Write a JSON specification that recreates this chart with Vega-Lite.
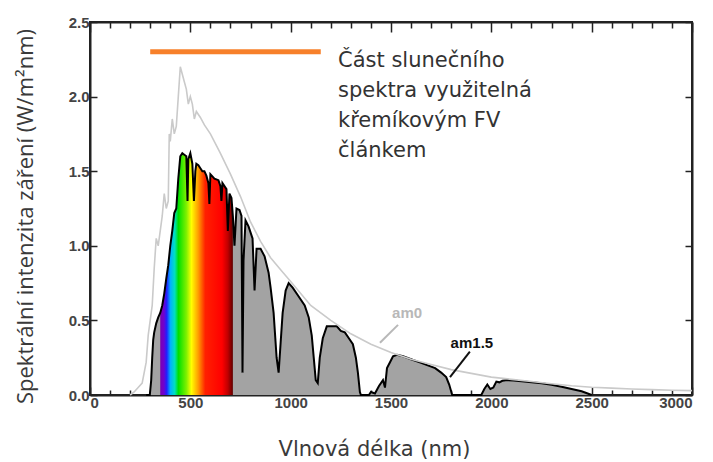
{
  "$schema": "https://vega.github.io/schema/vega-lite/v6.json",
  "width": 602,
  "height": 373,
  "autosize": {"type": "none"},
  "padding": {"left": 90, "top": 22, "right": 21, "bottom": 67},
  "background": "white",
  "config": {
    "view": {"stroke": "#222", "strokeWidth": 2},
    "axis": {"grid": false, "domainColor": "#222", "domainWidth": 2, "tickColor": "#222", "tickWidth": 1.5,
      "labelFont": "Liberation Sans", "labelFontWeight": "bold", "labelFontSize": 15, "labelColor": "#444",
      "titleFont": "DejaVu Sans", "titleFontWeight": "normal", "titleFontSize": 21, "titleColor": "#3a3a3a"}
  },
  "datasets": {
    "am15": [
      {"nm": 280, "v": 0}, {"nm": 298, "v": 0}, {"nm": 305, "v": 0.1}, {"nm": 310, "v": 0.25}, {"nm": 315, "v": 0.37},
      {"nm": 320, "v": 0.42}, {"nm": 330, "v": 0.48}, {"nm": 340, "v": 0.52}, {"nm": 350, "v": 0.55}, {"nm": 360, "v": 0.6},
      {"nm": 370, "v": 0.68}, {"nm": 380, "v": 0.78}, {"nm": 390, "v": 0.87}, {"nm": 400, "v": 1.0}, {"nm": 410, "v": 1.1},
      {"nm": 420, "v": 1.22}, {"nm": 430, "v": 1.25}, {"nm": 440, "v": 1.45}, {"nm": 450, "v": 1.6}, {"nm": 460, "v": 1.62},
      {"nm": 470, "v": 1.61}, {"nm": 480, "v": 1.6}, {"nm": 486, "v": 1.3}, {"nm": 490, "v": 1.58}, {"nm": 500, "v": 1.62},
      {"nm": 510, "v": 1.55}, {"nm": 518, "v": 1.3}, {"nm": 525, "v": 1.5}, {"nm": 530, "v": 1.55}, {"nm": 540, "v": 1.54},
      {"nm": 550, "v": 1.52}, {"nm": 560, "v": 1.5}, {"nm": 570, "v": 1.5}, {"nm": 580, "v": 1.47}, {"nm": 590, "v": 1.42},
      {"nm": 595, "v": 1.28}, {"nm": 600, "v": 1.48}, {"nm": 620, "v": 1.45}, {"nm": 640, "v": 1.44}, {"nm": 650, "v": 1.4},
      {"nm": 655, "v": 1.3}, {"nm": 660, "v": 1.42}, {"nm": 680, "v": 1.38}, {"nm": 687, "v": 1.1}, {"nm": 695, "v": 1.35},
      {"nm": 705, "v": 1.32}, {"nm": 712, "v": 1.2}, {"nm": 720, "v": 1.0}, {"nm": 730, "v": 1.25}, {"nm": 745, "v": 1.24},
      {"nm": 755, "v": 1.2}, {"nm": 760, "v": 0.15}, {"nm": 765, "v": 0.9}, {"nm": 775, "v": 1.17}, {"nm": 790, "v": 1.13},
      {"nm": 810, "v": 1.05}, {"nm": 820, "v": 0.7}, {"nm": 830, "v": 0.98}, {"nm": 850, "v": 0.98}, {"nm": 870, "v": 0.93},
      {"nm": 890, "v": 0.82}, {"nm": 900, "v": 0.72}, {"nm": 915, "v": 0.55}, {"nm": 930, "v": 0.25}, {"nm": 940, "v": 0.15},
      {"nm": 950, "v": 0.35}, {"nm": 960, "v": 0.55}, {"nm": 975, "v": 0.7}, {"nm": 990, "v": 0.75}, {"nm": 1010, "v": 0.72},
      {"nm": 1040, "v": 0.66}, {"nm": 1070, "v": 0.6}, {"nm": 1090, "v": 0.52}, {"nm": 1105, "v": 0.4}, {"nm": 1115, "v": 0.25},
      {"nm": 1125, "v": 0.1}, {"nm": 1135, "v": 0.08}, {"nm": 1145, "v": 0.25}, {"nm": 1160, "v": 0.38}, {"nm": 1180, "v": 0.46},
      {"nm": 1200, "v": 0.46}, {"nm": 1230, "v": 0.46}, {"nm": 1250, "v": 0.43}, {"nm": 1270, "v": 0.42}, {"nm": 1290, "v": 0.38},
      {"nm": 1310, "v": 0.34}, {"nm": 1325, "v": 0.25}, {"nm": 1335, "v": 0.15}, {"nm": 1345, "v": 0.02}, {"nm": 1350, "v": 0},
      {"nm": 1390, "v": 0}, {"nm": 1400, "v": 0.02}, {"nm": 1420, "v": 0.01}, {"nm": 1440, "v": 0.06}, {"nm": 1460, "v": 0.1},
      {"nm": 1470, "v": 0.05}, {"nm": 1480, "v": 0.18}, {"nm": 1495, "v": 0.22}, {"nm": 1510, "v": 0.26}, {"nm": 1530, "v": 0.27},
      {"nm": 1560, "v": 0.26}, {"nm": 1600, "v": 0.24}, {"nm": 1640, "v": 0.22}, {"nm": 1680, "v": 0.2}, {"nm": 1720, "v": 0.18},
      {"nm": 1750, "v": 0.15}, {"nm": 1775, "v": 0.12}, {"nm": 1790, "v": 0.07}, {"nm": 1805, "v": 0}, {"nm": 1950, "v": 0},
      {"nm": 1965, "v": 0.04}, {"nm": 1980, "v": 0.07}, {"nm": 1995, "v": 0.04}, {"nm": 2010, "v": 0.05}, {"nm": 2025, "v": 0.09},
      {"nm": 2040, "v": 0.085}, {"nm": 2055, "v": 0.095}, {"nm": 2080, "v": 0.1}, {"nm": 2110, "v": 0.097}, {"nm": 2150, "v": 0.092},
      {"nm": 2200, "v": 0.085}, {"nm": 2250, "v": 0.078}, {"nm": 2300, "v": 0.068}, {"nm": 2350, "v": 0.055}, {"nm": 2400, "v": 0.04},
      {"nm": 2450, "v": 0.025}, {"nm": 2480, "v": 0.01}, {"nm": 2500, "v": 0}
    ],
    "am0": [
      {"nm": 200, "v": 0.0}, {"nm": 220, "v": 0.02}, {"nm": 240, "v": 0.05}, {"nm": 260, "v": 0.08}, {"nm": 270, "v": 0.15},
      {"nm": 280, "v": 0.22}, {"nm": 290, "v": 0.4}, {"nm": 300, "v": 0.5}, {"nm": 310, "v": 0.6}, {"nm": 320, "v": 0.85},
      {"nm": 330, "v": 1.05}, {"nm": 340, "v": 1.0}, {"nm": 350, "v": 1.1}, {"nm": 360, "v": 1.2}, {"nm": 370, "v": 1.35},
      {"nm": 380, "v": 1.25}, {"nm": 390, "v": 1.3}, {"nm": 395, "v": 1.75}, {"nm": 400, "v": 1.7}, {"nm": 410, "v": 1.85},
      {"nm": 420, "v": 1.75}, {"nm": 430, "v": 1.8}, {"nm": 440, "v": 2.0}, {"nm": 450, "v": 2.2}, {"nm": 460, "v": 2.15},
      {"nm": 470, "v": 2.1}, {"nm": 480, "v": 2.05}, {"nm": 490, "v": 1.95}, {"nm": 500, "v": 2.0}, {"nm": 510, "v": 1.95},
      {"nm": 520, "v": 1.85}, {"nm": 530, "v": 1.9}, {"nm": 550, "v": 1.86}, {"nm": 570, "v": 1.81}, {"nm": 600, "v": 1.75},
      {"nm": 650, "v": 1.62}, {"nm": 700, "v": 1.48}, {"nm": 750, "v": 1.33}, {"nm": 800, "v": 1.16}, {"nm": 850, "v": 1.03},
      {"nm": 900, "v": 0.92}, {"nm": 950, "v": 0.84}, {"nm": 1000, "v": 0.76}, {"nm": 1100, "v": 0.6}, {"nm": 1200, "v": 0.5},
      {"nm": 1300, "v": 0.41}, {"nm": 1400, "v": 0.34}, {"nm": 1500, "v": 0.285}, {"nm": 1600, "v": 0.24}, {"nm": 1700, "v": 0.205},
      {"nm": 1800, "v": 0.17}, {"nm": 1900, "v": 0.145}, {"nm": 2000, "v": 0.12}, {"nm": 2100, "v": 0.105}, {"nm": 2200, "v": 0.09},
      {"nm": 2300, "v": 0.075}, {"nm": 2400, "v": 0.062}, {"nm": 2500, "v": 0.052}, {"nm": 2600, "v": 0.046}, {"nm": 2700, "v": 0.04},
      {"nm": 2800, "v": 0.036}, {"nm": 2900, "v": 0.032}, {"nm": 3000, "v": 0.029}
    ],
    "bar": [{"nm": 300, "nm2": 1150, "v": 2.3}],
    "note": [
      {"nm": 1236, "v": 2.198, "t": "Část slunečního"},
      {"nm": 1236, "v": 1.997, "t": "spektra využitelná"},
      {"nm": 1236, "v": 1.796, "t": "křemíkovým FV"},
      {"nm": 1236, "v": 1.595, "t": "článkem"}
    ],
    "labels": [
      {"nm": 1580, "v": 0.55, "t": "am0", "c": "am0"},
      {"nm": 1903, "v": 0.35, "t": "am1.5", "c": "am15"}
    ],
    "leaders": [
      {"nm": 1535, "v": 0.47, "nm2": 1445, "v2": 0.35, "c": "am0"},
      {"nm": 1893, "v": 0.29, "nm2": 1794, "v2": 0.12, "c": "am15"}
    ]
  },
  "encoding": {
    "x": {"field": "nm", "type": "quantitative", "scale": {"domain": [0, 3000], "nice": false, "zero": false}, "axis": null},
    "y": {"field": "v", "type": "quantitative", "scale": {"domain": [0, 2.5], "nice": false}, "axis": null}
  },
  "layer": [
    {
      "data": {"name": "am15"},
      "mark": {"type": "area", "color": "#a3a3a3", "interpolate": "linear"},
      "encoding": {
        "x": {"field": "nm", "type": "quantitative",
          "axis": {"orient": "bottom", "title": "Vlnová délka (nm)", "values": [0,100,200,300,400,500,600,700,800,900,1000,1100,1200,1300,1400,1500,1600,1700,1800,1900,2000,2100,2200,2300,2400,2500,2600,2700,2800,2900,3000],
            "labelExpr": "datum.value % 500 === 0 ? datum.label : ''", "format": "d",
            "tickSize": {"condition": {"test": "datum.value % 500 === 0", "value": -8}, "value": -5},
            "labelPadding": 8, "titleX": 284, "titleY": 60, "titleBaseline": "alphabetic"}},
        "y": {"field": "v", "type": "quantitative",
          "axis": {"orient": "left", "title": "Spektrální intenzita záření (W/m²nm)", "titleFont": "Open Sans", "titleFontSize": 22, "values": [0, 0.5, 1, 1.5, 2, 2.5], "format": ".1f",
            "tickSize": -7, "labelPadding": 8, "titleX": -65, "titleY": 194, "titleAngle": -90, "titleBaseline": "middle", "titleAlign": "center"}}
      }
    },
    {
      "data": {"name": "am15"},
      "transform": [{"filter": "datum.nm >= 350 && datum.nm <= 712"}],
      "mark": {"type": "area", "interpolate": "linear",
        "color": {"gradient": "linear", "x1": 0, "x2": 1, "y1": 0, "y2": 0, "stops": [
          {"offset": 0.0, "color": "#7a00b0"},
          {"offset": 0.05, "color": "#7000d0"},
          {"offset": 0.09, "color": "#2020ff"},
          {"offset": 0.14, "color": "#00b0ff"},
          {"offset": 0.2, "color": "#00e0c0"},
          {"offset": 0.25, "color": "#00e000"},
          {"offset": 0.36, "color": "#80f000"},
          {"offset": 0.43, "color": "#ffff00"},
          {"offset": 0.52, "color": "#ffa000"},
          {"offset": 0.62, "color": "#ff2000"},
          {"offset": 0.85, "color": "#ff0000"},
          {"offset": 0.93, "color": "#c00000"},
          {"offset": 1.0, "color": "#600000"}
        ]}}
    },
    {
      "data": {"name": "am15"},
      "mark": {"type": "line", "color": "#000", "strokeWidth": 2, "interpolate": "linear"}
    },
    {
      "data": {"name": "am0"},
      "mark": {"type": "line", "color": "#cacaca", "strokeWidth": 1.6, "interpolate": "linear"}
    },
    {
      "data": {"name": "bar"},
      "mark": {"type": "rule", "color": "#f7802a", "strokeWidth": 5},
      "encoding": {"x2": {"field": "nm2"}}
    },
    {
      "data": {"name": "leaders"},
      "mark": {"type": "rule", "strokeWidth": 2},
      "encoding": {
        "x2": {"field": "nm2"}, "y2": {"field": "v2"},
        "color": {"field": "c", "type": "nominal", "scale": {"domain": ["am0", "am15"], "range": ["#b8b8b8", "#111111"]}, "legend": null}
      }
    },
    {
      "data": {"name": "labels"},
      "mark": {"type": "text", "font": "Liberation Sans", "fontWeight": "bold", "fontSize": 15, "align": "center", "baseline": "middle"},
      "encoding": {
        "text": {"field": "t"},
        "color": {"field": "c", "type": "nominal", "scale": {"domain": ["am0", "am15"], "range": ["#b8b8b8", "#111111"]}, "legend": null}
      }
    },
    {
      "data": {"name": "note"},
      "mark": {"type": "text", "font": "DejaVu Sans", "fontSize": 21, "align": "left", "baseline": "alphabetic", "color": "#333"},
      "encoding": {"text": {"field": "t"}}
    },
    {
      "data": {"name": "bar"},
      "mark": {"type": "point", "opacity": 0},
      "encoding": {
        "x": {"field": "nm", "type": "quantitative",
          "axis": {"orient": "top", "title": null, "labels": false, "values": [0,100,200,300,400,500,600,700,800,900,1000,1100,1200,1300,1400,1500,1600,1700,1800,1900,2000,2100,2200,2300,2400,2500,2600,2700,2800,2900,3000],
            "tickSize": {"condition": {"test": "datum.value % 500 === 0", "value": -10}, "value": -6}}},
        "y": {"field": "v", "type": "quantitative",
          "axis": {"orient": "right", "title": null, "labels": false, "values": [0, 0.5, 1, 1.5, 2, 2.5], "tickSize": -7}}
      }
    }
  ],
  "resolve": {"axis": {"x": "independent", "y": "independent"}}
}
